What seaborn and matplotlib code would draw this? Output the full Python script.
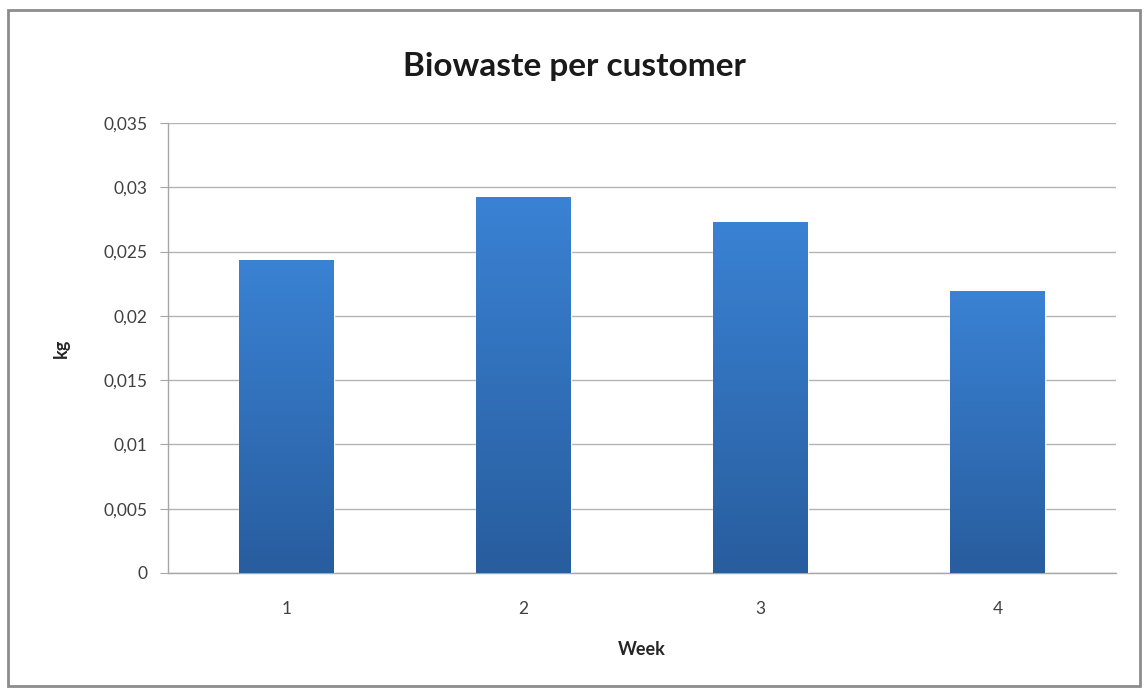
import numpy as np
import pandas as pd
import seaborn as sns
import matplotlib.pyplot as plt
from matplotlib.patches import Rectangle
from matplotlib.colors import LinearSegmentedColormap

weeks = ["1", "2", "3", "4"]
biowaste_kg = [0.02435, 0.02925, 0.0273, 0.0219]
y_ticks = [0, 0.005, 0.01, 0.015, 0.02, 0.025, 0.03, 0.035]
y_tick_labels = ["0", "0,005", "0,01", "0,015", "0,02", "0,025", "0,03", "0,035"]

sns.set_style("white")
plt.rcParams["font.family"] = ["Lato", "DejaVu Sans"]

df = pd.DataFrame({"Week": weeks, "kg": biowaste_kg})

fig = plt.figure(figsize=(11.45, 6.89), dpi=100)
ax = fig.add_axes([0.1467, 0.1684, 0.8279, 0.6531])

sns.barplot(data=df, x="Week", y="kg", color="#3477c6", width=0.4, ax=ax, zorder=3)

# vertical gradient like the Excel bars
grad = LinearSegmentedColormap.from_list("bar", ["#285d9e", "#3a82d4"])
for bar in ax.patches:
    x0, y0 = bar.get_x(), bar.get_y()
    w, h = bar.get_width(), bar.get_height()
    im = ax.imshow(np.linspace(0, 1, 256).reshape(-1, 1), cmap=grad, origin="lower",
                   extent=[x0, x0 + w, y0, y0 + h], aspect="auto", zorder=4)
    im.set_clip_path(bar)

ax.set_xlim(-0.5, 3.5)
ax.set_ylim(0, 0.035)
ax.set_yticks(y_ticks)
ax.set_yticklabels(y_tick_labels)
ax.yaxis.grid(True, color="#b4b4b4", linewidth=1.0, zorder=0)
ax.set_axisbelow(True)

for side in ["top", "right"]:
    ax.spines[side].set_visible(False)
for side in ["left", "bottom"]:
    ax.spines[side].set_color("#a6a6a6")
    ax.spines[side].set_linewidth(1.0)

ax.tick_params(axis="y", left=True, length=6, color="#a6a6a6", labelsize=12.5,
               labelcolor="#404040", pad=9)
ax.tick_params(axis="x", bottom=False, labelsize=12.5, labelcolor="#404040", pad=17)

ax.set_xlabel("Week", fontsize=13, fontweight="bold", color="#262626")
ax.set_ylabel("kg", fontsize=13, fontweight="bold", color="#262626")
ax.xaxis.set_label_coords(0.5, -0.152)
ax.yaxis.set_label_coords(-0.104, 0.5)
fig.text(0.502, 0.903, "Biowaste per customer", ha="center", va="center",
         fontsize=24, fontweight="bold", color="#1a1a1a")

fig.patches.append(Rectangle((0.007, 0.004), 0.989, 0.982, transform=fig.transFigure,
                             fill=False, edgecolor="#8c8c8c", linewidth=2))

fig.savefig("out.png", dpi=100)
